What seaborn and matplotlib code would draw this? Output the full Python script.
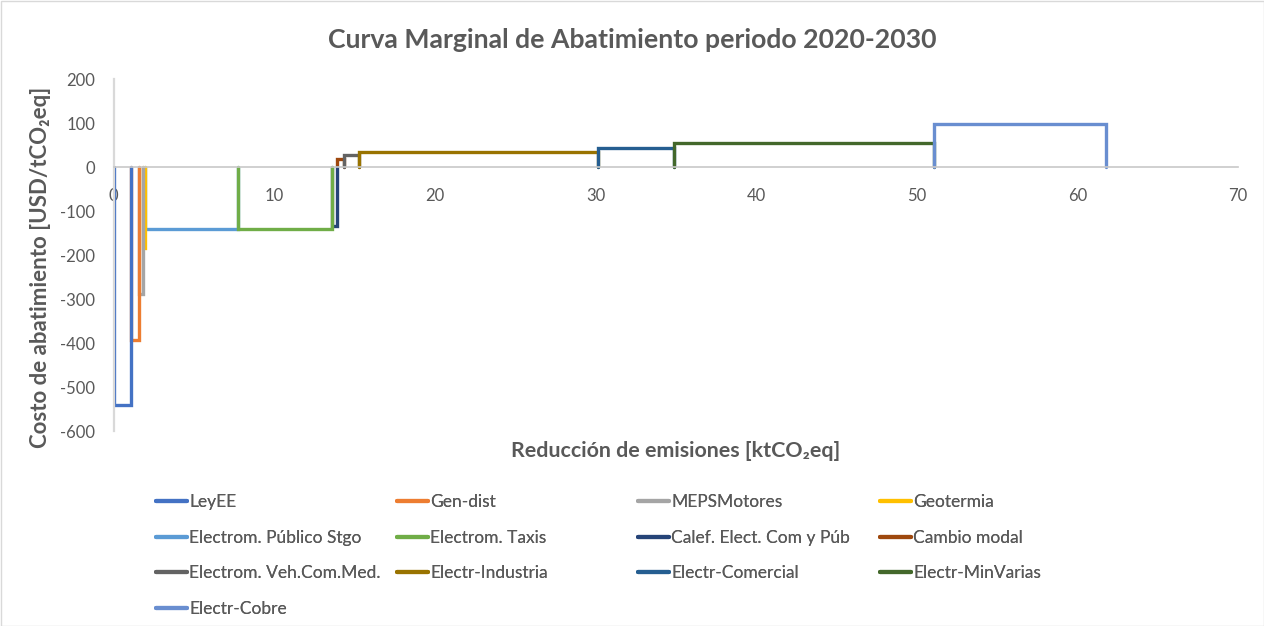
import matplotlib
matplotlib.use("Agg")
import matplotlib.pyplot as plt
from matplotlib.lines import Line2D
from matplotlib.patches import Rectangle
import seaborn as sns
import pandas as pd

# Medidas de mitigación, ordenadas por costo marginal
medidas = [
    "LeyEE", "Gen-dist", "MEPSMotores", "Geotermia",
    "Electrom. Público Stgo", "Electrom. Taxis", "Calef. Elect. Com y Púb", "Cambio modal",
    "Electrom. Veh.Com.Med.", "Electr-Industria", "Electr-Comercial", "Electr-MinVarias",
    "Electr-Cobre",
]
# Reducción acumulada al final de cada medida [ktCO2eq]
reduccion_acumulada = [1.07, 1.61, 1.86, 1.93, 7.75, 13.6, 13.9, 14.33, 15.29, 30.17, 34.9, 51.1, 61.8]
# Costo de abatimiento [USD/tCO2eq]
costo = [-540, -393, -288, -185, -140, -140, -133, 19, 28, 35, 44, 54, 97]

colores = [
    "#4472C4", "#ED7D31", "#A5A5A5", "#FFC000",
    "#5B9BD5", "#70AD47", "#264478", "#9E480E",
    "#636363", "#997300", "#255E91", "#43682B",
    "#698ED0",
]
x_ticks = [0, 10, 20, 30, 40, 50, 60, 70]
y_ticks = [-600, -500, -400, -300, -200, -100, 0, 100, 200]

sns.set_style("white")
plt.rcParams["font.family"] = ["Lato", "DejaVu Sans"]
GRIS = "#595959"

fig = plt.figure(figsize=(12.64, 6.26), dpi=100)
W, H = 1264, 626
ax = fig.add_axes([113.5 / W, (H - 431) / H, (1238 - 113.5) / W, (431 - 79) / H])

# Cada medida se dibuja como un escalón: sube desde cero, recorre su tramo y vuelve a cero.
# Los tramos de mayor costo absoluto quedan encima en los bordes compartidos.
inicio = [0.0] + reduccion_acumulada[:-1]
for nombre, x0, x1, c, col in zip(medidas, inicio, reduccion_acumulada, costo, colores):
    tramo = pd.DataFrame({"x": [x0, x0, x1, x1], "y": [0, c, c, 0]})
    sns.lineplot(data=tramo, x="x", y="y", sort=False, estimator=None, ax=ax,
                 color=col, linewidth=2.4, zorder=2 + abs(c) / 2000,
                 solid_joinstyle="miter", legend=False)

ax.set_xlim(0, 70)
ax.set_ylim(-600, 200)
ax.set_xticks(x_ticks)
ax.set_yticks(y_ticks)
ax.set_xticklabels([str(v) for v in x_ticks])
ax.set_yticklabels([str(v) for v in y_ticks])
ax.set_xlabel("")
ax.set_ylabel("")

for lado in ["top", "right"]:
    ax.spines[lado].set_visible(False)
ax.spines["bottom"].set_position(("data", 0))
ax.spines["bottom"].set_color("#C8C8C8")
ax.spines["bottom"].set_linewidth(1.2)
ax.spines["left"].set_color("#D9D9D9")
ax.spines["left"].set_linewidth(1.6)
ax.tick_params(axis="x", length=0, pad=15, labelsize=12, labelcolor=GRIS)
ax.tick_params(axis="y", length=0, pad=13, labelsize=12, labelcolor=GRIS)
ax.set_zorder(1)

fig.text(0.5, 1 - 40 / H, "Curva Marginal de Abatimiento periodo 2020-2030",
         ha="center", va="center", fontsize=19.2, fontweight="bold", color=GRIS)
fig.text((113.5 + 1238) / 2 / W, 1 - 451 / H, "Reducción de emisiones [ktCO₂eq]",
         ha="center", va="center", fontsize=15.4, fontweight="bold", color=GRIS)
fig.text(41 / W, 1 - 267 / H, "Costo de abatimiento [USD/tCO₂eq]",
         ha="center", va="center", rotation=90, fontsize=16, fontweight="bold", color=GRIS)

# Leyenda en cuatro columnas de igual ancho, ordenada por filas
ncol = 4
col_x = [156, 397, 638, 880]
for j in range(ncol):
    idx = list(range(j, len(medidas), ncol))
    handles = [Line2D([], [], color=colores[i], linewidth=3) for i in idx]
    labels = [medidas[i] for i in idx]
    leg = fig.legend(handles, labels, loc="upper left",
                     bbox_to_anchor=(col_x[j] / W, 1 - 494 / H),
                     frameon=False, fontsize=12.5, labelcolor=GRIS,
                     handlelength=1.8, handletextpad=0.1, labelspacing=1.13,
                     borderaxespad=0, borderpad=0)
    fig.add_artist(leg)

fig.patches.append(Rectangle((0.5 / W, 0.5 / H), 1 - 1 / W, 1 - 1 / H, transform=fig.transFigure,
                             fill=False, edgecolor="#D9D9D9", linewidth=1))

fig.savefig("out.png", dpi=100)
